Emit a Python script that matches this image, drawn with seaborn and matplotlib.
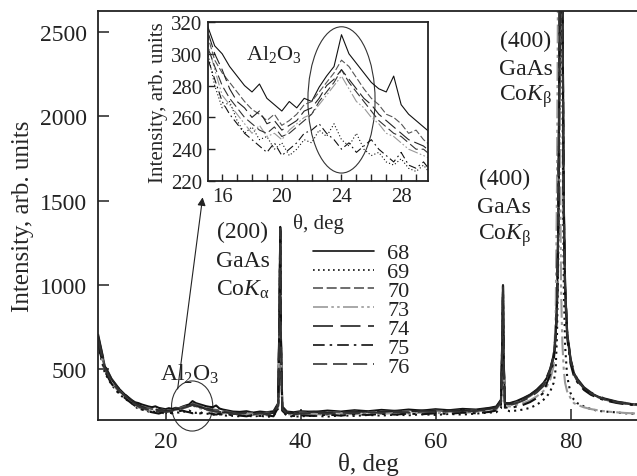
import numpy as np
import pandas as pd
import matplotlib
matplotlib.use("Agg")
import matplotlib.pyplot as plt
from matplotlib.patches import Ellipse
from matplotlib.lines import Line2D
import seaborn as sns

# ---------------------------------------------------------------- data
# diffraction angle grid (deg), shared by all scans
theta = [10, 11, 12, 13, 14,
         15, 15.5, 16, 16.5, 17, 17.5, 18, 18.5, 19, 19.5, 20, 20.5, 21, 21.5,
         22, 22.5, 23, 23.5, 24, 24.5, 25, 25.5, 26, 26.5, 27, 27.5, 28, 28.5,
         29, 29.5, 30,
         31, 32, 33, 34, 35, 36, 36.7, 36.9, 37.0, 37.1, 37.3, 38, 39,
         40, 42, 44, 46, 48, 50, 52, 54, 56, 58, 60, 62, 64, 66, 68,
         69, 69.7, 69.9, 70.0, 70.1, 70.3, 71, 72, 73, 74, 75, 76,
         76.5, 77, 77.5, 77.8, 78.0, 78.2, 78.4, 78.5, 78.6, 78.7, 78.8, 79.0,
         79.2, 79.5, 80, 80.5, 81, 82, 83, 84, 85, 86, 87, 88, 89, 90]

i68 = [700, 520, 440, 390, 350,
       318, 305, 300, 292, 286, 280, 276, 281, 272, 268, 264, 270, 266, 272,
       270, 279, 286, 292, 312, 300, 294, 288, 282, 278, 276, 286, 268, 262,
       258, 254, 250,
       248, 252, 244, 250, 246, 252, 300, 900, 1345, 700, 280, 250, 246,
       252, 248, 256, 250, 258, 252, 260, 254, 262, 256, 264, 258, 266, 262, 272,
       280, 320, 700, 1000, 560, 300, 300, 312, 330, 350, 380, 420,
       450, 500, 580, 700, 900, 1400, 2600, 3600, 4200, 3800, 2800, 1500,
       1000, 720, 560, 480, 440, 390, 360, 340, 325, 315, 305, 300, 295, 290]
i69 = [640, 480, 410, 360, 325,
       302, 280, 266, 270, 258, 250, 254, 246, 248, 240, 244, 236, 240, 246,
       244, 252, 248, 256, 246, 242, 250, 240, 236, 238, 232, 230, 234, 228,
       226, 230, 224,
       222, 228, 220, 226, 218, 224, 270, 820, 1300, 640, 250, 226, 220,
       222, 226, 220, 228, 224, 230, 226, 232, 228, 234, 230, 236, 232, 238, 244,
       246, 270, 620, 960, 500, 262, 252, 256, 262, 272, 290, 320,
       340, 370, 420, 500, 700, 1200, 2300, 3300, 3900, 3400, 2200, 1000,
       640, 460, 360, 320, 300, 280, 265, 255, 250, 248, 244, 240, 238, 236]
i70 = [690, 510, 430, 380, 345,
       312, 296, 288, 282, 276, 270, 265, 262, 258, 262, 255, 258, 262, 268,
       270, 276, 282, 288, 296, 292, 285, 278, 272, 268, 262, 260, 256, 250,
       252, 246, 242,
       242, 238, 246, 240, 244, 246, 290, 880, 1330, 690, 270, 244, 240,
       246, 240, 248, 244, 250, 246, 252, 248, 254, 250, 256, 252, 258, 256, 264,
       272, 310, 680, 990, 540, 292, 292, 305, 320, 342, 370, 410,
       440, 490, 570, 690, 890, 1380, 2550, 3550, 4150, 3750, 2750, 1450,
       980, 710, 550, 470, 432, 384, 355, 336, 322, 312, 302, 298, 292, 288]
i73 = [660, 495, 420, 372, 338,
       308, 290, 274, 268, 262, 256, 250, 255, 248, 250, 246, 252, 256, 260,
       262, 268, 274, 280, 286, 278, 270, 266, 260, 256, 250, 248, 244, 240,
       238, 236, 234,
       232, 238, 230, 236, 228, 234, 280, 850, 1310, 660, 262, 236, 230,
       232, 236, 230, 238, 234, 240, 236, 242, 238, 244, 240, 246, 242, 248, 254,
       262, 300, 650, 975, 520, 284, 280, 290, 300, 316, 340, 372,
       400, 440, 520, 800, 1600, 3200, 2400, 1500, 1000, 800, 650, 500,
       420, 370, 330, 300, 290, 275, 265, 258, 252, 248, 245, 242, 240, 238]
i74 = [710, 525, 445, 392, 352,
       315, 300, 290, 278, 270, 266, 260, 264, 256, 258, 252, 255, 258, 264,
       266, 272, 280, 284, 290, 284, 278, 272, 268, 262, 258, 254, 250, 246,
       244, 242, 238,
       240, 246, 238, 244, 236, 242, 295, 890, 1340, 680, 275, 242, 238,
       244, 250, 242, 248, 246, 252, 248, 254, 250, 256, 252, 258, 254, 260, 268,
       276, 318, 690, 995, 550, 298, 296, 310, 326, 348, 376, 416,
       455, 505, 585, 705, 905, 1410, 2620, 3620, 4220, 3820, 2820, 1510,
       1010, 730, 565, 485, 445, 394, 364, 344, 328, 318, 308, 302, 298, 292]
i75 = [650, 490, 415, 365, 330,
       298, 284, 270, 262, 256, 250, 246, 242, 238, 244, 236, 240, 244, 250,
       252, 256, 250, 246, 240, 244, 238, 242, 246, 240, 236, 232, 238, 230,
       228, 232, 226,
       226, 222, 230, 224, 228, 222, 275, 830, 1320, 650, 255, 228, 224,
       228, 224, 232, 226, 234, 230, 236, 232, 238, 234, 240, 236, 244, 240, 248,
       256, 290, 640, 970, 515, 276, 270, 280, 290, 306, 330, 360,
       420, 470, 550, 670, 870, 1350, 2500, 3500, 4100, 3700, 2700, 1400,
       950, 690, 535, 460, 425, 378, 350, 332, 318, 308, 300, 294, 290, 286]
i76 = [680, 505, 428, 378, 342,
       305, 292, 280, 272, 266, 260, 256, 252, 250, 254, 248, 250, 254, 258,
       262, 270, 276, 282, 290, 282, 276, 270, 264, 258, 254, 250, 248, 244,
       240, 240, 236,
       236, 242, 234, 240, 232, 238, 285, 860, 1335, 670, 265, 238, 234,
       238, 242, 236, 244, 240, 246, 242, 248, 244, 250, 246, 252, 248, 254, 260,
       268, 306, 670, 985, 530, 288, 288, 300, 316, 336, 364, 402,
       445, 495, 575, 695, 895, 1390, 2580, 3580, 4180, 3780, 2780, 1480,
       990, 715, 555, 475, 436, 386, 358, 338, 324, 314, 304, 300, 294, 290]

samples = ["68", "69", "70", "73", "74", "75", "76"]
scans = [i68, i69, i70, i73, i74, i75, i76]

df = pd.DataFrame({
    "theta": theta * len(samples),
    "intensity": sum(scans, []),
    "sample": [s for s in samples for _ in theta],
})

# ---------------------------------------------------------------- style
sns.set_theme(style="ticks")
plt.rcParams.update({
    "font.family": ["Liberation Serif", "DejaVu Serif"],
    "mathtext.fontset": "custom",
    "mathtext.rm": "Liberation Serif",
    "mathtext.it": "Liberation Serif:italic",
    "axes.edgecolor": "#222222",
    "axes.linewidth": 1.3,
    "xtick.direction": "in",
    "ytick.direction": "in",
    "text.color": "#222222",
})

colors = {"68": "#111111", "69": "#111111", "70": "#555555", "73": "#999999",
          "74": "#222222", "75": "#111111", "76": "#333333"}
dashes = {"68": "", "69": (1, 2), "70": (6, 2.2), "73": (9, 2, 1.5, 2, 1.5, 2),
          "74": (12, 4.5), "75": (7, 3, 1.5, 3), "76": (8.5, 3.5)}

fig = plt.figure(figsize=(6.37, 4.77), dpi=100)
ax = fig.add_axes([98 / 637, 56 / 477, 540 / 637, 409 / 477])

sns.lineplot(data=df, x="theta", y="intensity", hue="sample", style="sample",
             palette=colors, dashes=dashes, estimator=None, sort=False,
             linewidth=1.5, legend=False, ax=ax)

ax.set_xlim(10, 90)
ax.set_ylim(200, 2625)
ax.set_xticks([20, 40, 60, 80])
ax.set_yticks([500, 1000, 1500, 2000, 2500])
ax.tick_params(labelsize=17, length=8, width=1.1, pad=8, colors="#222222")
ax.set_xlabel("θ, deg", fontsize=18, labelpad=0)
ax.set_ylabel("Intensity, arb. units", fontsize=18, labelpad=4)
sns.despine(ax=ax, top=False, right=False)

# peak labels
def stacked(ax, x, ys, lines, **kw):
    for y, t in zip(ys, lines):
        ax.text(x, y, t, ha="center", va="center", fontsize=17, **kw)

stacked(ax, 31.4, [1316, 1144, 977], ["(200)", "GaAs", "Co$K_{\\mathrm{α}}$"])
stacked(ax, 70.2, [1630, 1464, 1298], ["(400)", "GaAs", "Co$K_{\\mathrm{β}}$"])
stacked(ax, 73.4, [2449, 2283, 2123], ["(400)", "GaAs", "Co$K_{\\mathrm{β}}$"])
ax.text(23.6, 479, "Al$_2$O$_3$", ha="center", va="center", fontsize=17)

ax.add_patch(Ellipse((23.95, 283), 6.1, 297, fill=False, lw=0.8,
                     ec="#333333", clip_on=False))
ax.annotate("", xy=(25.5, 1520), xytext=(21.8, 384),
            arrowprops=dict(arrowstyle="-|>", lw=0.8, color="#222222",
                            mutation_scale=12, shrinkA=0, shrinkB=0))

handles = [Line2D([], [], color=colors[s], lw=1.2,
                  linestyle=(0, dashes[s]) if dashes[s] else "-")
           for s in samples]
ax.legend(handles, samples, loc="upper left", bbox_to_anchor=(0.398, 0.433),
          frameon=False, fontsize=16, handlelength=2.75, handletextpad=0.6,
          labelspacing=-0.075, borderpad=0, borderaxespad=0)

# ---------------------------------------------------------------- inset
ins = fig.add_axes([208 / 637, 1 - 182 / 477, 220 / 637, 159 / 477])
sns.lineplot(data=df, x="theta", y="intensity", hue="sample", style="sample",
             palette=colors, dashes=dashes, estimator=None, sort=False,
             linewidth=0.8, legend=False, ax=ins)
ins.set_xlim(15.05, 29.8)
ins.set_ylim(220, 320)
ins.set_xticks([16, 20, 24, 28])
ins.set_xticks(np.arange(16, 30), minor=True)
ins.set_yticks([220, 240, 260, 280, 300, 320])
ins.tick_params(labelsize=15, length=5, width=1, pad=4, colors="#222222")
ins.tick_params(which="minor", length=5, width=1, direction="in")
ins.set_xlabel("θ, deg", fontsize=15, labelpad=5)
ins.set_ylabel("Intensity, arb. units", fontsize=15, labelpad=2)
ins.set_facecolor("white")
sns.despine(ax=ins, top=False, right=False)
ins.text(19.5, 300, "Al$_2$O$_3$", ha="center", va="center", fontsize=16)
ins.add_patch(Ellipse((24.0, 271), 4.5, 92, fill=False, lw=0.8, ec="#333333"))

fig.savefig("out.png", dpi=100)
